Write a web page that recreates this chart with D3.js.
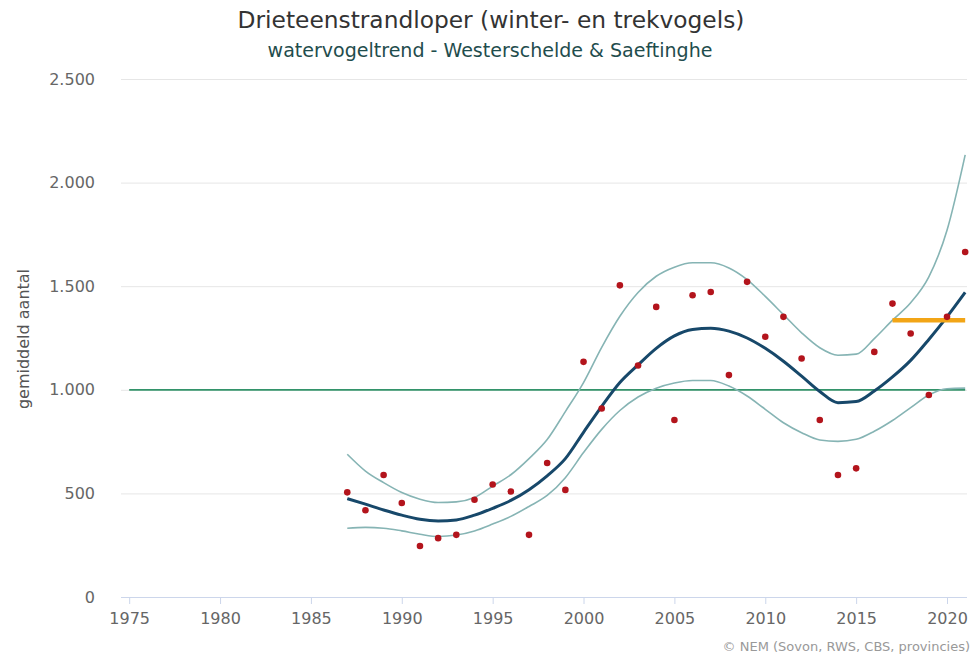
<!DOCTYPE html>
<html>
<head>
<meta charset="utf-8">
<script src="https://cdn.jsdelivr.net/npm/d3@7"></script>
<style>
  body { margin: 0; background: #fff; }
  svg text { font-family: "DejaVu Sans", Verdana, sans-serif; }
</style>
</head>
<body>
<div id="graph"></div>
<script>
// yearly values
var years = d3.range(1987, 2022);
var counts = [505, 419, 589, 454, 246, 284, 300, 469, 543, 509, 300, 647, 517,
  1135, 910, 1504, 1117, 1400, 854, 1456, 1472, 1071, 1521, 1256, 1352, 1151,
  854, 589, 621, 1183, 1416, 1272, 975, 1352, 1665];
var trend = [475, 448, 420, 395, 375, 367, 372, 395, 428, 466, 518, 585, 668,
  795, 920, 1035, 1120, 1200, 1260, 1291, 1297, 1283, 1250, 1200, 1138, 1066,
  992, 938, 943, 994, 1062, 1142, 1243, 1352, 1470];
var upper = [689, 608, 552, 504, 472, 456, 459, 480, 535, 590, 668, 760, 895,
  1035, 1205, 1355, 1470, 1548, 1592, 1613, 1613, 1588, 1532, 1451, 1363, 1275,
  1203, 1167, 1172, 1247, 1336, 1420, 1545, 1770, 2134];
var lower = [332, 336, 332, 319, 303, 292, 299, 319, 352, 389, 437, 490, 576,
  697, 809, 900, 965, 1008, 1033, 1045, 1045, 1018, 970, 906, 841, 793,
  758, 751, 761, 800, 852, 914, 975, 1005, 1008];
var refLine = [{year: 1975, value: 1000}, {year: 2021, value: 1000}];
var recentMean = [{year: 2017, value: 1336}, {year: 2021, value: 1336}];
var xTicks = d3.range(1975, 2021, 5);
var yTicks = [0, 500, 1000, 1500, 2000, 2500];

var w = 976, h = 657;
var mLeft = 121, mRight = 967, mTop = 79, mBottom = 597;

var svg = d3.select("div#graph").append("svg")
  .attr("width", w)
  .attr("height", h);

var x = d3.scaleLinear().domain([1974.55, 2021.1]).range([mLeft, mRight]);
var y = d3.scaleLinear().domain([0, 2500]).range([mBottom, mTop]);

// shrink/grow a text's font so it spans about the same width as in the picture
function fitWidth(sel, target) {
  var len = sel.node().getComputedTextLength();
  var fs = parseFloat(sel.style("font-size"));
  sel.style("font-size", (fs * target / len).toFixed(2) + "px");
}

// title + subtitle
var title = svg.append("text")
  .attr("x", 491).attr("y", 28)
  .attr("text-anchor", "middle")
  .attr("fill", "#333")
  .style("font-size", "20px")
  .text("Drieteenstrandloper (winter- en trekvogels)");
fitWidth(title, 507);
var subtitle = svg.append("text")
  .attr("x", 490).attr("y", 57)
  .attr("text-anchor", "middle")
  .attr("fill", "#1f4d4d")
  .style("font-size", "16px")
  .text("watervogeltrend - Westerschelde & Saeftinghe");
fitWidth(subtitle, 445);

// horizontal grid + y labels
var yAxis = svg.append("g")
  .attr("transform", "translate(" + mLeft + ",0)")
  .call(d3.axisLeft(y).tickValues(yTicks)
    .tickSize(-(mRight - mLeft))
    .tickPadding(26)
    .tickFormat(function(d) { return d3.format(",")(d).replace(/,/g, "."); }));
yAxis.select(".domain").remove();
yAxis.selectAll(".tick line").attr("stroke", "#e6e6e6");
yAxis.selectAll(".tick text").attr("fill", "#666").style("font-size", "16px");

svg.append("text")
  .attr("transform", "translate(29,339) rotate(-90)")
  .attr("text-anchor", "middle")
  .attr("fill", "#555")
  .style("font-size", "16px")
  .text("gemiddeld aantal");

// x axis
var xAxis = svg.append("g")
  .attr("transform", "translate(0," + mBottom + ")")
  .call(d3.axisBottom(x).tickValues(xTicks).tickSize(7).tickPadding(9)
    .tickFormat(d3.format("d")));
xAxis.select(".domain").attr("stroke", "#ccd6eb").attr("d", "M" + mLeft + ",0.5H" + mRight);
xAxis.selectAll(".tick line").attr("stroke", "#ccd6eb");
xAxis.selectAll(".tick text").attr("fill", "#666").style("font-size", "16px");

var line = d3.line()
  .curve(d3.curveMonotoneX)
  .x(function(d) { return x(d.year); })
  .y(function(d) { return y(d.value); });
function series(vals) {
  return years.map(function(yr, i) { return {year: yr, value: vals[i]}; });
}

// reference line at 1000
svg.append("path").datum(refLine)
  .attr("d", line).attr("fill", "none")
  .attr("stroke", "#33936a").attr("stroke-width", 1.8);

// confidence band lines
[upper, lower].forEach(function(vals) {
  svg.append("path").datum(series(vals))
    .attr("d", line).attr("fill", "none")
    .attr("stroke", "#86b4b4").attr("stroke-width", 1.6);
});

// trend
svg.append("path").datum(series(trend))
  .attr("d", line).attr("fill", "none")
  .attr("stroke", "#17486a").attr("stroke-width", 3);

// mean of last years
svg.append("path").datum(recentMean)
  .attr("d", line).attr("fill", "none")
  .attr("stroke", "#f2a516").attr("stroke-width", 4.5);

// counts
svg.selectAll("circle.count")
  .data(series(counts)).enter().append("circle")
  .attr("class", "count")
  .attr("cx", function(d) { return x(d.year); })
  .attr("cy", function(d) { return y(d.value); })
  .attr("r", 3.3)
  .attr("fill", "#b3141c");

// credits
svg.append("text")
  .attr("x", 970).attr("y", 651)
  .attr("text-anchor", "end")
  .attr("fill", "#999")
  .style("font-size", "13px")
  .text("© NEM (Sovon, RWS, CBS, provincies)");
</script>
</body>
</html>
